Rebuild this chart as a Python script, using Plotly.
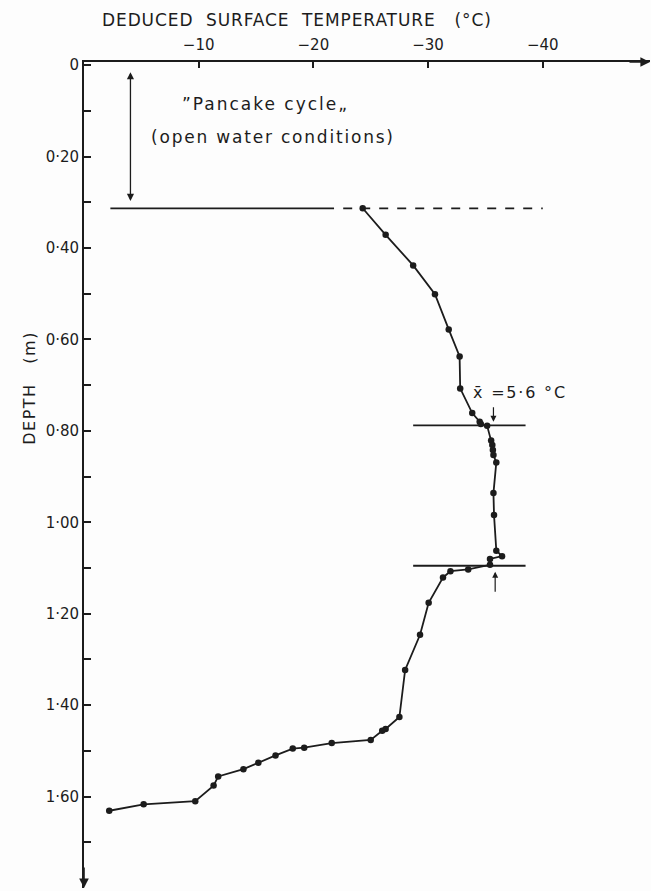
import plotly.graph_objects as go

# ---- data ----
depth_m = [0.313, 0.371, 0.438, 0.501, 0.578, 0.637, 0.707, 0.761, 0.780, 0.785,
           0.789, 0.821, 0.831, 0.842, 0.853, 0.869, 0.936, 0.984, 1.062, 1.074,
           1.080, 1.093, 1.103, 1.107, 1.121, 1.176, 1.246, 1.323, 1.426, 1.452,
           1.456, 1.476, 1.483, 1.493, 1.495, 1.510, 1.526, 1.540, 1.556, 1.576,
           1.610, 1.617, 1.631]
temp_c = [-24.3, -26.3, -28.7, -30.6, -31.8, -32.75, -32.8, -33.85, -34.5, -34.6,
          -35.15, -35.5, -35.6, -35.65, -35.7, -35.95, -35.7, -35.75, -35.95, -36.45,
          -35.4, -35.4, -33.5, -31.95, -31.3, -30.05, -29.3, -28.0, -27.5, -26.3,
          -26.0, -25.0, -21.6, -19.2, -18.2, -16.7, -15.2, -13.9, -11.7, -11.3,
          -9.7, -5.2, -2.2]

x_tickvals = [-10, -20, -30, -40]
x_ticktext = ["\u221210", "\u221220", "\u221230", "\u221240"]
y_tickvals = [0, 0.2, 0.4, 0.6, 0.8, 1.0, 1.2, 1.4, 1.6]
y_ticktext = ["0", "0\u00b720", "0\u00b740", "0\u00b760", "0\u00b780",
              "1\u00b700", "1\u00b720", "1\u00b740", "1\u00b760"]
y_minor = [0.1, 0.3, 0.5, 0.7, 0.9, 1.1, 1.3, 1.5, 1.7]

# pancake-cycle boundary and the constant-temperature section
pancake_depth = 0.313
pancake_solid = [-2.3, -21.8]
pancake_dash = [-22.6, -40.0]
band_depths = [0.788, 1.095]
band_temps = [-28.7, -38.5]
band_label = "x\u0304 =5\u00b76 \u00b0C"

INK = "#1c1c1c"
FONT = "DejaVu Sans"


def spaced(t, px):
    return '<span style="letter-spacing:%spx">%s</span>' % (px, t)


fig = go.Figure()
fig.add_trace(go.Scatter(
    x=temp_c, y=depth_m, mode="lines+markers",
    line=dict(color=INK, width=1.8),
    marker=dict(color=INK, size=6.5),
    showlegend=False, hoverinfo="skip"))

fig.add_shape(type="line", xref="x", yref="y",
              x0=pancake_solid[0], x1=pancake_solid[1], y0=pancake_depth, y1=pancake_depth,
              line=dict(color=INK, width=1.8))
fig.add_shape(type="line", xref="x", yref="y",
              x0=pancake_dash[0], x1=pancake_dash[1], y0=pancake_depth, y1=pancake_depth,
              line=dict(color=INK, width=1.8, dash="dash"))
for d in band_depths:
    fig.add_shape(type="line", xref="x", yref="y",
                  x0=band_temps[0], x1=band_temps[1], y0=d, y1=d,
                  line=dict(color=INK, width=1.8))

annotations = []
annotations.append(dict(x=-4.05, y=0.297, ax=-4.05, ay=0.012, xref="x", yref="y",
                        axref="x", ayref="y", text="", showarrow=True,
                        arrowhead=2, arrowside="end+start", arrowsize=1.1,
                        arrowwidth=1.3, arrowcolor=INK))
annotations.append(dict(x=-35.7, y=0.780, ax=-35.7, ay=0.745, xref="x", yref="y",
                        axref="x", ayref="y", text="", showarrow=True,
                        arrowhead=2, arrowsize=1.0, arrowwidth=1.2, arrowcolor=INK))
annotations.append(dict(x=-35.85, y=1.108, ax=-35.85, ay=1.155, xref="x", yref="y",
                        axref="x", ayref="y", text="", showarrow=True,
                        arrowhead=2, arrowsize=1.0, arrowwidth=1.2, arrowcolor=INK))
annotations.append(dict(x=-33.75, y=0.715, xref="x", yref="y", text=spaced(band_label, 1.8),
                        showarrow=False, xanchor="left", yanchor="middle",
                        font=dict(family=FONT, size=16, color=INK)))
annotations.append(dict(x=-15.8, y=0.085, xref="x", yref="y",
                        text=spaced("\u201dPancake cycle\u201e", 2.0), showarrow=False,
                        font=dict(family=FONT, size=17, color=INK)))
annotations.append(dict(x=-16.5, y=0.157, xref="x", yref="y",
                        text=spaced("(open water conditions)", 1.8), showarrow=False,
                        font=dict(family=FONT, size=17, color=INK)))
# axis arrows
annotations.append(dict(x=1.0, y=1.0, xref="paper", yref="paper", ax=-22, ay=0,
                        text="", showarrow=True, arrowhead=2, arrowsize=1.2,
                        arrowwidth=1.6, arrowcolor=INK))
annotations.append(dict(x=0.0, y=0.0, xref="paper", yref="paper", ax=0, ay=-22,
                        text="", showarrow=True, arrowhead=2, arrowsize=1.2,
                        arrowwidth=1.6, arrowcolor=INK))
# titles
annotations.append(dict(x=-18.6, y=1.0, xref="x", yref="paper", yshift=42,
                        text=spaced("DEDUCED\u00a0 SURFACE\u00a0 TEMPERATURE\u00a0\u00a0 (\u00b0C)", 0.9),
                        showarrow=False, yanchor="middle",
                        font=dict(family=FONT, size=17, color=INK)))
annotations.append(dict(x=0.0, y=0.605, xref="paper", yref="paper", xshift=-66,
                        text=spaced("DEPTH\u00a0\u00a0 (m)", 1.5), textangle=-90, showarrow=False,
                        font=dict(family=FONT, size=16, color=INK)))

fig.update_layout(
    width=651, height=891,
    margin=dict(l=84, r=1, t=62, b=3),
    paper_bgcolor="#fdfdfd", plot_bgcolor="#fdfdfd",
    annotations=annotations,
    xaxis=dict(range=[0, -49.35], side="top", showgrid=False, zeroline=False,
               showline=True, linecolor=INK, linewidth=1.8,
               tickmode="array", tickvals=x_tickvals, ticktext=x_ticktext,
               ticks="inside", ticklen=6, tickwidth=1.5, tickcolor=INK,
               ticklabelstandoff=4,
               tickfont=dict(family=FONT, size=15, color=INK)),
    yaxis=dict(range=[1.80, -0.007], showgrid=False, zeroline=False,
               showline=True, linecolor=INK, linewidth=1.8,
               tickmode="array", tickvals=y_tickvals, ticktext=y_ticktext,
               ticks="inside", ticklen=7, tickwidth=1.5, tickcolor=INK,
               minor=dict(tickvals=y_minor, ticks="inside", ticklen=7,
                          tickwidth=1.5, tickcolor=INK),
               tickfont=dict(family=FONT, size=15, color=INK)),
)

fig.write_html(
    "out.html",
    config={"displayModeBar": False},
    post_script="document.body.style.margin='0';document.body.style.overflow='hidden';"
                "document.documentElement.style.overflow='hidden';",
)
